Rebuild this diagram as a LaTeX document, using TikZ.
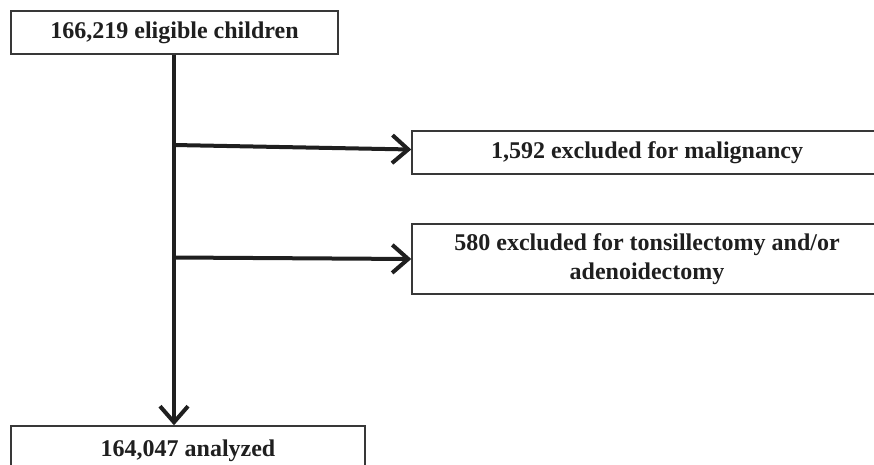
\documentclass[tikz,border=0pt]{standalone}
\usepackage{fontspec}
\setmainfont{Liberation Serif}
\usetikzlibrary{arrows.meta,calc}
\begin{document}
\begin{tikzpicture}[x=1pt,y=-1pt,
  box/.style={draw=black!78, line width=1.5pt, fill=white, inner sep=0pt,
    font=\fontsize{24}{29}\selectfont\bfseries, text=black!88, align=center},
  flow/.style={draw=black!88, line width=4pt, line cap=butt,
    -{Straight Barb[length=16pt,width=28pt]}}]
\useasboundingbox (0,0) rectangle (874,465);
\node[box, minimum width=327, minimum height=43] (top) at (174.5,32.5) {166,219 eligible children};
\node[box, minimum width=470, minimum height=43] (ex1) at (647,152.5) {1,592 excluded for malignancy};
\node[box, minimum width=470, minimum height=70] (ex2) at (647,259) {580 excluded for tonsillectomy and/or\\adenoidectomy};
\node[box, minimum width=354, minimum height=50] (bot) at (188,451) {164,047 analyzed};
\coordinate (b1) at (174,145);
\coordinate (b2) at (174,257.5);
\draw[flow] (top.south -| b1) -- (b1 |- bot.north);
\draw[flow] (b1) -- ($(ex1.west)+(0,-3)$);
\draw[flow] (b2) -- (ex2.west);
\end{tikzpicture}
\end{document}
